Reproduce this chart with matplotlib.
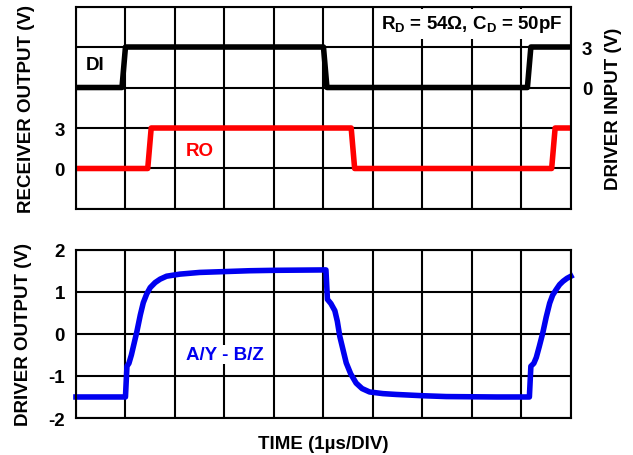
import numpy as np
import matplotlib
matplotlib.use("Agg")
import matplotlib.pyplot as plt

plt.rcParams['font.family'] = ['Liberation Sans', 'DejaVu Sans']
plt.rcParams['font.weight'] = 'bold'
plt.rcParams['mathtext.fontset'] = 'custom'
plt.rcParams['mathtext.rm'] = 'Liberation Sans:bold'
plt.rcParams['mathtext.default'] = 'rm'
plt.rcParams['axes.unicode_minus'] = False

FS = 13.5

# time axis in us (1 us / DIV)
di_t = [0, 0.93, 1.0, 5.0, 5.07, 9.12, 9.19, 10]
di_v = [0, 0, 3, 3, 0, 0, 3, 3]

ro_t = [0, 1.45, 1.52, 5.56, 5.63, 9.61, 9.68, 10]
ro_v = [0, 0, 3, 3, 0, 0, 3, 3]

drv_t = [0, 1.0, 1.03, 1.07, 1.12, 1.18, 1.23, 1.3, 1.36, 1.43, 1.5, 1.6, 1.7,
         1.83, 2.1, 2.5, 3.0, 3.5, 4.0, 5.05,
         5.08, 5.15, 5.23, 5.28, 5.33, 5.4, 5.46, 5.55, 5.66, 5.78, 5.93, 6.2,
         6.47, 7.0, 7.48, 8.5, 9.16,
         9.19, 9.25, 9.3, 9.36, 9.43, 9.5, 9.57, 9.63, 9.7, 9.77, 9.84, 9.92, 10]
drv_v = [-1.5, -1.5, -0.77, -0.7, -0.5, -0.2, 0.05, 0.45, 0.74, 0.95, 1.1, 1.22, 1.3,
         1.37, 1.42, 1.46, 1.48, 1.5, 1.51, 1.52,
         0.82, 0.72, 0.55, 0.3, -0.06, -0.4, -0.69, -0.95, -1.17, -1.3, -1.38, -1.42,
         -1.44, -1.47, -1.49, -1.5, -1.5,
         -0.77, -0.7, -0.56, -0.3, 0.02, 0.4, 0.73, 0.92, 1.05, 1.17, 1.25, 1.32, 1.37]

fig = plt.figure(figsize=(6.33, 4.56), dpi=100)
ax1 = fig.add_axes([0.120, 0.5395, 0.782, 0.444])
ax2 = fig.add_axes([0.120, 0.0811, 0.782, 0.3691])

def style_grid(ax):
    ax.grid(True, color='black', linewidth=1.5)
    ax.set_axisbelow(True)
    for s in ax.spines.values():
        s.set_linewidth(1.5)
    ax.tick_params(length=0, pad=8, labelsize=FS)
    ax.set_xlim(0, 10)
    ax.set_xticks(np.arange(0, 11, 1))
    ax.set_xticklabels([])

# top panel
style_grid(ax1)
ax1.set_ylim(-3, 12)
ax1.set_yticks([-3, 0, 3, 6, 9, 12])
ax1.set_yticklabels(['', '0', '3', '', '', ''])
ax1.plot(ro_t, ro_v, color='#ff0000', linewidth=4, solid_capstyle='butt', clip_on=False)
ax1.set_ylabel('RECEIVER OUTPUT (V)', fontsize=FS, fontweight='bold', labelpad=14)

ax1r = ax1.twinx()
ax1r.set_ylim(-9, 6)
ax1r.set_yticks([0, 3])
ax1r.tick_params(length=0, pad=8, labelsize=FS)
for s in ax1r.spines.values():
    s.set_visible(False)
ax1r.plot(di_t, di_v, color='black', linewidth=4, solid_capstyle='butt', clip_on=False)
ax1r.set_ylabel('DRIVER INPUT (V)', fontsize=FS, fontweight='bold', labelpad=9)
ax1r.set_xlim(0, 10)

ax1.text(0.38, 7.67, 'DI', color='black', fontsize=FS, ha='center', va='center')
ax1.text(2.5, 1.3, 'RO', color='#ff0000', fontsize=FS, ha='center', va='center')
ax1.text(0.982, 0.914, r'R$_{D}$ = 54Ω, C$_{D}$ = 50pF', transform=ax1.transAxes,
         fontsize=FS, ha='right', va='center', zorder=5,
         bbox=dict(facecolor='white', edgecolor='none', pad=3))

# bottom panel
style_grid(ax2)
ax2.set_ylim(-2, 2)
ax2.set_yticks([-2, -1, 0, 1, 2])
ax2.plot(drv_t, drv_v, color='#0000f0', linewidth=4, clip_on=False)
ax2.text(3.0, -0.49, 'A/Y - B/Z', color='#0000f0', fontsize=FS, ha='center', va='center',
         bbox=dict(facecolor='white', edgecolor='none', pad=1))
ax2.set_ylabel('DRIVER OUTPUT (V)', fontsize=FS, fontweight='bold', labelpad=12)
ax2.set_xlabel('TIME (1µs/DIV)', fontsize=FS, fontweight='bold', labelpad=4)

fig.savefig('out.png', dpi=100)
